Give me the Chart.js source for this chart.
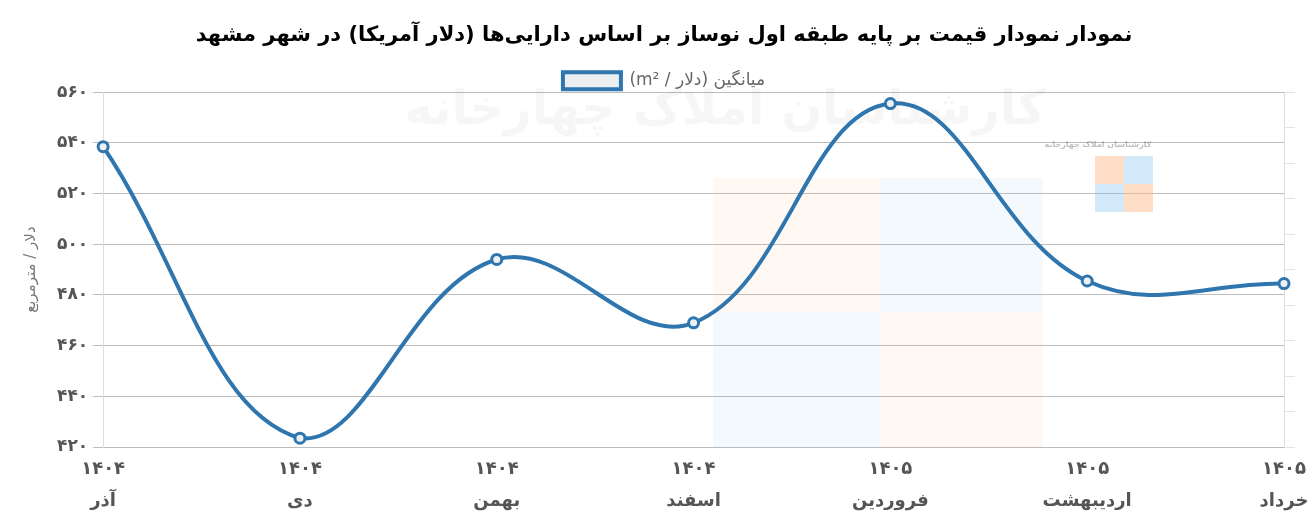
<!DOCTYPE html>
<html lang="fa">
<head>
<meta charset="utf-8">
<style>
  body { margin: 0; background: #fff; }
  #wrap { width: 1310px; height: 524px; }
</style>
</head>
<body>
<div id="wrap">
  <canvas id="priceChart" width="1310" height="524" dir="rtl"></canvas>
</div>
<script src="https://cdn.jsdelivr.net/npm/chart.js"></script>
<script>
// داده‌ها
const years = ['۱۴۰۴', '۱۴۰۴', '۱۴۰۴', '۱۴۰۴', '۱۴۰۵', '۱۴۰۵', '۱۴۰۵'];
const months = ['آذر', 'دی', 'بهمن', 'اسفند', 'فروردین', 'اردیبهشت', 'خرداد'];
const avgPrice = [538.5, 423.5, 494, 469, 555.5, 485.5, 484.5];
const yMin = 420;
const yMax = 560;
const yStep = 20;

const titleText = 'نمودار نمودار قیمت بر پایه طبقه اول نوساز بر اساس دارایی‌ها (دلار آمریکا) در شهر مشهد';
const seriesLabel = 'میانگین (دلار / m²)';
const yTitle = 'دلار / مترمربع';

const FA = '۰۱۲۳۴۵۶۷۸۹';
function toFa(n) {
    return String(n).replace(/[0-9]/g, d => FA[d]);
}

const labels = years.map((y, i) => [y, months[i]]);
const FONT = '"DejaVu Sans", sans-serif';

// واترمارک کمرنگ پشت نمودار
const watermark = {
    id: 'watermark',
    beforeDatasetsDraw(chart) {
        const ctx = chart.ctx;
        ctx.save();
        // مربع‌های بزرگ کمرنگ
        ctx.fillStyle = 'rgba(255, 190, 140, 0.10)';
        ctx.fillRect(713, 178, 167, 134);
        ctx.fillRect(880, 312, 163, 135);
        ctx.fillStyle = 'rgba(150, 200, 240, 0.10)';
        ctx.fillRect(880, 178, 163, 134);
        ctx.fillRect(713, 312, 167, 135);
        // لوگوی کوچک
        ctx.fillStyle = 'rgba(255, 180, 130, 0.45)';
        ctx.fillRect(1095, 156, 29, 28);
        ctx.fillRect(1124, 184, 29, 28);
        ctx.fillStyle = 'rgba(140, 200, 240, 0.40)';
        ctx.fillRect(1124, 156, 29, 28);
        ctx.fillRect(1095, 184, 29, 28);
        ctx.fillStyle = 'rgba(0,0,0,0.25)';
        ctx.font = 'bold 8px ' + FONT;
        ctx.textAlign = 'center';
        ctx.textBaseline = 'middle';
        ctx.fillText('کارشناسان املاک چهارخانه', 1098, 145);
        // متن بزرگ
        ctx.fillStyle = 'rgba(0,0,0,0.035)';
        ctx.font = 'bold 48px ' + FONT;
        ctx.fillText('کارشناسان املاک چهارخانه', 725, 112);
        ctx.restore();
    }
};

const ctx = document.getElementById('priceChart');
const chart = new Chart(ctx, {
    type: 'line',
    data: {
        labels: labels,
        datasets: [{
            label: seriesLabel,
            data: avgPrice,
            borderColor: '#2f75ae',
            backgroundColor: '#eceff2',
            borderWidth: 4,
            tension: 0.4,
            pointRadius: 5,
            pointBorderWidth: 3,
            pointBorderColor: '#2f75ae',
            pointBackgroundColor: '#eef1f4',
            yAxisID: 'y'
        }]
    },
    options: {
        responsive: false,
        animation: false,
        layout: { padding: { left: 18, right: 0, bottom: 0 } },
        plugins: {
            title: {
                display: true,
                text: titleText,
                color: '#000',
                font: { family: FONT, size: 21, weight: 'bold' },
                padding: { top: 23, bottom: 20 }
            },
            legend: {
                display: true,
                textDirection: 'rtl',
                maxHeight: 24,
                labels: {
                    color: '#666',
                    boxWidth: 58,
                    boxHeight: 17,
                    padding: 4,
                    font: { family: FONT, size: 17 }
                }
            },
            tooltip: { enabled: false }
        },
        scales: {
            x: {
                offset: false,
                grid: { display: false, drawTicks: false },
                border: { color: '#bbb' },
                ticks: {
                    color: '#555',
                    font: { family: FONT, size: 18, weight: 'bold', lineHeight: 1.75 },
                    maxRotation: 0,
                    autoSkip: false,
                    padding: 7
                },
                // برچسب آخر کمی از لبه بیرون بزند
                afterFit: scale => { scale.paddingRight = 26; }
            },
            y: {
                position: 'left',
                min: yMin,
                max: yMax,
                ticks: {
                    stepSize: yStep,
                    color: '#555',
                    padding: 5,
                    font: { family: FONT, size: 17, weight: 'bold' },
                    callback: v => toFa(v)
                },
                grid: { color: '#bdbdbd', tickLength: 10 },
                border: { color: '#ddd' },
                title: {
                    display: true,
                    text: yTitle,
                    color: '#777',
                    padding: { top: 4, bottom: 12 },
                    font: { family: FONT, size: 15 }
                }
            },
            y1: {
                position: 'right',
                min: 0,
                max: 10,
                ticks: { stepSize: 1, padding: 0, callback: () => '' },
                grid: { drawOnChartArea: false, color: '#e3e3e3', tickLength: 11 },
                border: { color: '#ddd' }
            }
        }
    },
    plugins: [watermark]
});
</script>
</body>
</html>
